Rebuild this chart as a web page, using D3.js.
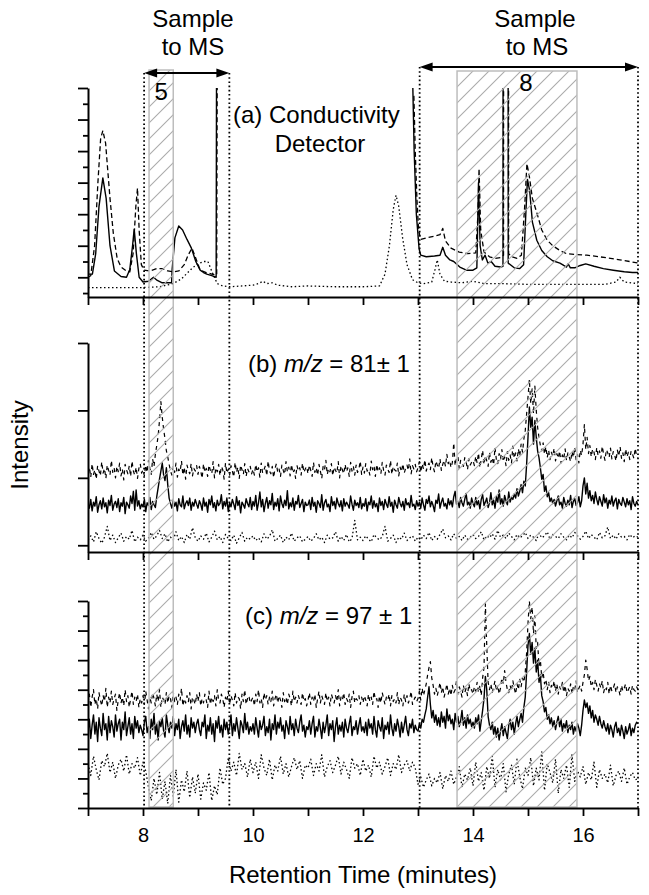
<!DOCTYPE html>
<html><head><meta charset="utf-8">
<script src="https://cdn.jsdelivr.net/npm/d3@7"></script>
<style>body{margin:0;background:#fff}svg{display:block}</style>
</head><body>
<svg id="c" width="649" height="895"></svg>
<script>
// ---------- DATA ----------
const xTicks = [7,8,9,10,11,12,13,14,15,16,17];
const xTickLabels = {8:"8",10:"10",12:"12",14:"14",16:"16"};
const sampleWindows = [[8.02, 9.57], [13.03, 17.0]];
const hatchBands = [[8.11, 8.55], [13.71, 15.89]];
const bandLabels = ["5", "8"];

// Panel (a) conductivity detector: [time, signal]; null breaks the trace
const aSolid = [
[7.00,1.2],[7.08,1.2],[7.14,2.5],[7.20,5.5],[7.27,7.3],[7.33,6.0],[7.40,3.0],[7.48,1.4],[7.60,1.05],[7.70,1.0],[7.76,1.5],[7.81,3.0],[7.84,4.05],[7.88,2.5],[7.93,1.0],[8.00,0.7],[8.10,0.75],[8.19,1.0],[8.26,0.8],[8.35,0.65],[8.45,0.65],[8.52,0.65],[8.53,1.5],[8.58,3.5],[8.65,4.25],[8.72,4.0],[8.80,3.4],[8.88,2.85],[8.96,2.0],[9.04,1.45],[9.10,1.3],[9.16,1.2],[9.25,1.1],[9.33,1.0],[9.345,30],[9.35,null],
[12.905,13.2],[12.93,9.0],[12.97,5.0],[13.02,2.8],[13.05,2.4],[13.15,2.3],[13.30,2.35],[13.40,2.4],[13.45,2.9],[13.50,2.4],[13.58,2.1],[13.65,2.0],[13.76,1.65],[13.88,1.45],[14.00,1.45],[14.07,1.6],[14.10,7.0],[14.13,3.0],[14.17,2.1],[14.22,2.4],[14.27,1.9],[14.33,2.0],[14.40,1.7],[14.50,1.65],[14.545,1.7],[14.548,30],[14.637,30],[14.64,1.9],[14.75,1.6],[14.85,1.55],[14.92,1.8],[14.96,5.0],[14.99,7.2],[15.03,6.5],[15.08,4.5],[15.16,3.35],[15.25,2.7],[15.35,2.3],[15.45,2.05],[15.58,1.9],[15.65,1.75],[15.70,1.65],[15.73,1.85],[15.77,1.6],[15.85,1.6],[15.95,1.75],[16.05,1.85],[16.20,1.7],[16.37,1.55],[16.55,1.45],[16.75,1.35],[16.90,1.3],[17.00,1.3]
];
const aDashed = [
[7.00,1.0],[7.05,1.1],[7.12,3.0],[7.18,7.0],[7.23,9.8],[7.27,10.3],[7.32,9.5],[7.40,6.0],[7.46,3.8],[7.53,2.2],[7.60,1.65],[7.70,1.4],[7.76,1.35],[7.82,2.5],[7.87,5.5],[7.90,6.65],[7.93,4.0],[7.97,1.8],[8.02,1.45],[8.12,1.4],[8.25,1.55],[8.35,1.55],[8.45,1.4],[8.55,1.35],[8.65,1.4],[8.75,1.8],[8.82,2.4],[8.89,2.85],[8.95,2.3],[9.04,1.45],[9.15,1.3],[9.25,1.2],[9.34,1.15],[9.36,30],[9.37,null],
[12.925,12.5],[12.95,9.0],[12.98,6.0],[13.01,4.0],[13.05,3.4],[13.15,3.5],[13.30,3.6],[13.40,3.7],[13.45,4.1],[13.50,3.3],[13.60,2.85],[13.75,2.6],[13.90,2.5],[14.05,2.55],[14.09,5.0],[14.11,7.9],[14.14,4.0],[14.20,2.6],[14.30,2.3],[14.40,2.2],[14.50,2.25],[14.555,2.4],[14.558,30],[14.645,30],[14.648,2.5],[14.70,2.3],[14.80,2.2],[14.88,2.4],[14.94,5.5],[14.98,8.2],[15.02,7.5],[15.08,6.0],[15.16,5.1],[15.25,4.0],[15.35,3.35],[15.45,3.0],[15.58,2.7],[15.70,2.5],[15.85,2.45],[16.07,2.4],[16.30,2.3],[16.50,2.2],[16.67,2.1],[16.85,2.0],[17.00,1.9]
];
const aDotted = [
[7.00,0.35],[7.50,0.35],[8.00,0.35],[8.30,0.4],[8.55,0.6],[8.70,0.9],[8.80,1.25],[8.90,1.6],[9.00,1.85],[9.10,2.0],[9.18,2.0],[9.26,1.3],[9.35,0.6],[9.45,0.45],[9.58,0.4],[9.80,0.45],[10.00,0.5],[10.10,0.6],[10.18,0.75],[10.25,0.6],[10.35,0.65],[10.45,0.5],[10.70,0.4],[11.00,0.45],[11.50,0.4],[12.00,0.4],[12.30,0.45],[12.40,1.2],[12.48,3.0],[12.55,5.3],[12.60,6.2],[12.65,5.5],[12.72,3.5],[12.80,1.8],[12.90,0.85],[13.00,0.65],[13.10,0.6],[13.25,0.7],[13.31,1.5],[13.35,2.1],[13.40,1.2],[13.48,0.75],[13.60,0.7],[13.80,0.65],[14.00,0.75],[14.20,0.6],[14.50,0.6],[15.00,0.55],[15.50,0.55],[16.00,0.55],[16.40,0.55],[16.60,0.7],[16.67,1.0],[16.75,0.7],[17.00,0.6]
];

// MS traces. Solid/dashed: readings every 0.025 min (401 each, 40 per minute row);
// dotted: readings every 0.05 min (201 each, 20 per minute row). 7.00 -> 17.00
// Panel (b) m/z 81, in hundredths of a major tick
const bSolid = [
62,55,68,51,64,58,72,49,60,66,54,70,57,63,48,67,59,74,52,61,65,56,69,50,63,58,71,47,64,60,55,73,62,80,52,82,58,66,54,61,
57,68,50,63,59,71,53,65,60,56,72,85,98,110,122,104,96,115,90,70,62,55,67,58,64,51,69,60,57,73,54,62,66,59,70,52,64,58,68,61,
55,66,61,52,70,58,64,49,68,60,73,56,63,51,67,59,62,75,54,65,58,70,50,63,57,68,61,53,72,59,66,48,64,60,55,69,62,57,71,53,
65,58,74,52,63,79,57,68,50,62,71,55,66,60,77,53,64,58,69,51,73,62,56,67,59,81,54,63,57,70,52,65,61,74,56,62,68,50,64,59,
60,67,53,71,58,64,49,66,62,56,75,52,63,68,57,61,50,72,59,65,54,70,62,57,66,51,69,58,64,60,55,73,61,52,67,59,63,56,71,54,
62,58,69,51,64,60,73,55,66,57,62,50,70,59,65,53,68,61,56,72,58,64,49,67,60,55,71,62,57,65,52,69,60,63,56,74,58,61,53,66,
58,64,55,70,60,52,68,62,73,57,65,59,50,67,62,76,55,64,70,58,62,54,69,60,66,57,72,80,61,65,56,71,63,58,68,77,60,64,55,70,
62,57,71,60,66,54,68,75,59,64,70,56,63,78,60,67,55,72,64,82,61,69,58,74,66,60,79,64,71,68,76,70,84,73,80,90,78,95,88,120,
160,205,175,190,150,185,160,140,130,115,98,105,80,88,72,78,65,70,62,68,58,66,73,60,64,55,71,62,58,67,60,74,56,65,69,59,63,72,57,66,
88,100,76,92,70,81,66,74,62,79,68,60,72,65,58,75,63,70,55,67,61,73,58,66,70,54,68,62,59,71,64,57,69,60,66,53,72,62,58,65,
60];
const bDashed = [
108,116,101,121,105,112,98,118,110,103,124,107,114,99,119,111,104,126,108,115,100,117,109,122,103,113,97,120,112,106,118,102,125,110,104,116,99,114,121,107,
112,103,119,108,126,114,105,128,117,135,148,162,185,213,190,172,158,140,131,120,110,104,117,108,122,101,113,109,125,104,116,98,119,111,106,121,103,114,110,118,
105,117,110,99,121,108,114,102,119,111,106,124,100,115,109,120,103,117,112,98,122,107,113,104,118,110,101,123,108,116,99,119,112,105,121,102,114,109,117,106,
113,104,120,109,115,101,122,107,112,118,103,125,110,106,117,100,114,121,108,113,102,119,111,105,124,109,116,103,120,107,112,99,118,110,115,104,122,108,113,117,
106,119,111,102,123,108,115,104,120,110,99,117,112,126,105,114,109,121,103,116,111,107,124,100,118,112,106,120,109,115,102,123,110,117,104,119,108,113,125,105,
116,107,121,110,113,104,125,112,118,102,120,109,115,106,123,111,104,119,113,108,126,105,117,112,110,122,103,116,109,121,107,114,119,111,128,106,118,113,120,109,
115,124,108,121,113,127,110,118,122,112,130,116,109,125,119,114,128,111,120,126,117,135,121,126,115,123,152,118,129,132,114,126,121,117,130,124,112,128,119,123,
126,118,132,122,137,115,128,141,120,133,125,117,138,123,130,119,145,127,121,136,128,142,124,131,118,139,126,134,122,147,129,137,125,143,132,150,138,158,170,195,
220,246,210,232,195,236,200,175,160,148,140,152,135,146,130,141,127,138,132,144,125,136,129,140,122,134,128,143,126,137,131,124,139,130,145,127,135,122,141,133,
150,179,142,160,136,148,131,143,138,127,145,133,140,129,147,135,126,142,137,130,144,128,139,134,125,141,132,146,129,137,124,143,131,138,127,140,135,129,144,132,
130];
const bDotted = [
8,14,5,20,10,3,12,28,7,15,4,11,18,6,13,9,22,5,12,8,
15,6,11,19,9,14,22,10,17,5,12,8,20,7,13,4,16,9,26,11,
6,14,9,18,5,12,21,8,13,4,16,10,7,15,3,11,19,6,12,9,
14,7,11,5,17,9,13,23,6,10,15,4,12,8,18,6,11,14,5,9,
13,6,10,17,8,12,4,15,9,11,20,6,13,7,16,5,10,37,8,12,
7,14,9,5,16,11,8,13,28,6,10,15,4,12,9,18,7,11,14,6,
12,8,15,10,19,7,13,9,16,24,11,14,8,17,10,13,7,15,9,12,
16,10,13,20,8,14,11,17,9,22,12,15,10,18,13,8,16,11,14,19,
10,15,12,7,18,11,14,20,9,16,13,10,17,12,8,15,11,19,14,9,
13,21,10,16,12,8,19,11,14,27,10,15,9,17,12,13,8,16,11,14,
12];
// Panel (c) m/z 97, in tenths of a minor tick
const cSolid = [
52,60,47,56,63,50,58,45,61,54,49,64,53,57,46,62,51,59,55,48,63,52,57,60,46,58,53,65,49,55,61,50,57,47,62,54,59,51,56,53,
49,58,62,51,55,47,60,53,64,50,57,46,59,55,61,52,48,63,56,51,58,54,62,49,57,53,60,47,55,59,52,63,50,56,48,61,54,58,51,57,
60,53,49,58,55,63,47,56,52,61,50,57,45,59,54,62,51,56,48,60,53,58,50,55,63,49,57,52,61,54,47,59,56,51,64,53,58,50,55,52,
57,50,61,54,48,59,53,56,62,49,55,51,60,46,57,53,63,50,58,54,61,52,56,47,59,55,50,62,53,57,49,60,54,51,58,63,52,56,48,55,
53,59,50,57,62,48,55,52,60,54,47,58,51,56,63,49,57,53,59,45,55,61,50,56,52,58,48,60,54,51,57,62,49,55,53,59,50,56,61,52,
55,51,58,49,60,54,57,50,62,53,48,59,55,52,61,47,56,53,58,50,63,54,49,57,52,60,55,48,58,51,56,62,53,49,57,54,60,51,56,53,
52,57,54,60,58,63,67,75,82,70,61,66,58,63,56,61,55,65,58,62,54,67,59,63,57,60,53,64,58,62,55,59,66,56,61,54,63,57,60,55,
58,54,61,57,63,52,59,66,74,89,80,62,56,53,58,50,55,48,54,46,52,57,49,55,51,47,56,60,53,58,50,57,62,55,60,64,58,68,75,92,
110,118,104,112,98,108,92,100,85,90,76,72,65,68,60,63,57,61,55,59,53,58,62,55,60,52,57,54,59,51,56,53,58,50,55,52,57,54,49,56,
66,73,68,71,64,69,61,66,58,63,60,56,62,57,54,59,55,52,57,50,56,53,48,55,58,51,54,49,56,52,47,55,50,53,57,49,54,51,56,58,
57];
const cDashed = [
71,77,68,75,80,70,74,67,78,73,69,76,72,81,68,75,71,79,70,74,77,66,73,78,71,75,69,80,72,76,68,74,79,70,75,72,77,68,74,71,
76,70,79,73,67,75,71,78,74,69,77,72,80,68,75,73,70,78,71,76,74,68,79,72,75,70,77,73,81,69,74,71,76,72,78,67,75,73,70,77,
72,78,69,74,71,77,73,68,79,70,75,72,76,69,80,73,71,77,74,68,75,72,79,70,76,73,69,78,71,75,74,67,77,72,80,70,74,76,71,73,
75,69,77,72,80,71,74,68,78,73,76,70,75,72,79,69,74,77,71,76,73,68,78,72,75,70,77,74,69,79,72,75,71,76,73,70,78,72,74,69,
73,78,70,75,72,77,68,74,79,71,76,73,70,78,72,75,69,77,74,71,76,72,80,69,75,73,78,70,74,72,77,68,75,79,71,74,73,76,70,75,
71,76,73,69,77,72,75,70,79,73,74,68,76,71,78,74,70,75,73,77,69,76,72,74,71,78,70,75,73,69,77,72,76,71,74,79,70,73,75,72,
74,79,73,81,76,80,84,90,95,99,88,83,77,81,76,80,85,78,82,75,79,84,77,81,76,83,78,80,86,77,82,79,75,83,78,81,76,84,79,80,
77,82,79,85,78,83,76,88,95,138,110,85,80,84,78,82,86,79,83,77,81,88,84,93,85,80,78,83,79,86,81,77,84,80,87,82,88,85,92,105,
125,140,128,136,118,130,108,112,96,100,88,92,84,87,80,85,78,83,81,86,79,84,77,82,80,85,78,83,76,81,79,84,77,82,80,86,78,81,83,79,
85,90,100,94,86,89,82,85,80,87,83,79,84,81,86,78,82,80,85,77,83,79,81,84,78,82,80,76,83,79,81,84,78,80,82,77,83,80,79,82,
80];
const cDotted = [
30,22,35,26,19,32,28,37,24,31,20,29,33,25,36,23,30,27,34,22,
31,25,14,5,20,9,24,6,18,3,22,8,26,4,19,11,25,7,21,10,
23,6,17,12,24,5,15,9,27,16,20,34,25,31,22,37,26,30,21,33,
24,31,20,36,27,22,33,19,29,25,35,23,30,21,28,34,26,32,20,29,
27,33,22,30,25,36,21,28,32,24,29,35,23,31,26,20,34,27,30,22,
33,25,29,21,35,27,31,23,28,34,22,30,26,36,24,29,32,25,31,27,
16,21,14,19,23,15,20,17,24,13,22,18,25,16,21,28,14,23,19,27,
15,31,18,24,12,28,20,35,14,26,19,30,11,23,29,16,33,21,13,27,
22,34,15,27,19,38,12,30,24,17,33,10,26,20,29,14,36,18,25,21,
28,16,24,19,31,14,26,20,23,17,29,15,22,25,18,27,16,21,24,19,
20];
const timesFine = d3.range(bSolid.length).map(i => 7 + i * 0.025);
const timesCoarse = d3.range(bDotted.length).map(i => 7 + i * 0.05);
const pairs = (t, v) => t.map((ti, i) => [ti, v[i]]);

// ---------- LAYOUT ----------
const FONT = "'Liberation Sans', Arial, Helvetica, sans-serif";
const svg = d3.select("#c");
const x = d3.scaleLinear().domain([7, 17]).range([88, 638]);

const panels = [
  {id:"a", top:88, bottom:297, domain:[-0.25, 13], ticks:d3.range(0, 14), major:v => v % 2 === 1,
   series:[{d:aDotted, s:"dotted"}, {d:aDashed, s:"dashed"}, {d:aSolid, s:"solid"}]},
  {id:"b", top:343, bottom:552, domain:[-10, 300], ticks:[0,100,200,300], major:() => true,
   series:[{d:pairs(timesCoarse,bDotted), s:"dotted"}, {d:pairs(timesFine,bSolid), s:"solid"}, {d:pairs(timesFine,bDashed), s:"dashedNoisy"}]},
  {id:"c", top:601, bottom:808, domain:[0, 140], ticks:d3.range(0, 141, 10), major:v => v % 20 === 0,
   series:[{d:pairs(timesCoarse,cDotted), s:"dotted"}, {d:pairs(timesFine,cSolid), s:"solid"}, {d:pairs(timesFine,cDashed), s:"dashedNoisy"}]}
];

const styles = {
  solid:  {w:1.4, dash:null},
  dashed: {w:1.3, dash:"5,3"},
  dashedNoisy: {w:1.2, dash:"4,4"},
  dotted: {w:1.3, dash:"1.5,2.5"}
};

const defs = svg.append("defs");
const pat = defs.append("pattern").attr("id","hatch").attr("patternUnits","userSpaceOnUse")
  .attr("width",16).attr("height",16);
pat.append("path").attr("d","M-4,4 L4,-4 M0,16 L16,0 M12,20 L20,12")
  .attr("stroke","#ababab").attr("stroke-width",1.1).attr("fill","none");

panels.forEach(p => {
  const y = d3.scaleLinear().domain(p.domain).range([p.bottom, p.top]);
  p.y = y;
  defs.append("clipPath").attr("id","clip-"+p.id).append("rect")
    .attr("x", 88).attr("y", p.top).attr("width", 550).attr("height", p.bottom - p.top);
  const g = svg.append("g").attr("clip-path", "url(#clip-"+p.id+")");
  const line = d3.line().defined(d => d[1] !== null && d[1] !== undefined).x(d => x(d[0])).y(d => y(d[1]));
  p.series.forEach(s => {
    const st = styles[s.s];
    g.append("path").attr("d", line(s.d)).attr("fill","none").attr("stroke","#000")
      .attr("stroke-width", st.w).attr("stroke-dasharray", st.dash).attr("stroke-linejoin","round");
  });
});

// hatched bands (on top of traces)
const bandTops = [70, 71];
hatchBands.forEach((b, i) => {
  svg.append("rect").attr("x", x(b[0])).attr("y", bandTops[i])
    .attr("width", x(b[1]) - x(b[0])).attr("height", 807 - bandTops[i])
    .attr("fill","url(#hatch)").attr("stroke","#bdbdbd").attr("stroke-width",1.5);
});

// sample-to-MS windows: dotted verticals + double arrows
const arrowY = [73, 67];
sampleWindows.forEach((w, i) => {
  const ay = arrowY[i];
  w.forEach(t => {
    svg.append("line").attr("x1", x(t)).attr("x2", x(t)).attr("y1", ay).attr("y2", 808)
      .attr("stroke","#000").attr("stroke-width",1.8).attr("stroke-dasharray","1.6,2.6");
  });
  const x1 = x(w[0]), x2 = x(w[1]);
  svg.append("line").attr("x1", x1 + 6).attr("x2", x2 - 6).attr("y1", ay).attr("y2", ay)
    .attr("stroke","#000").attr("stroke-width",2);
  svg.append("path").attr("d", `M${x1},${ay} L${x1+13},${ay-4.5} L${x1+13},${ay+4.5} Z`).attr("fill","#000");
  svg.append("path").attr("d", `M${x2},${ay} L${x2-13},${ay-4.5} L${x2-13},${ay+4.5} Z`).attr("fill","#000");
});

// axes
panels.forEach(p => {
  const majors = p.ticks.filter(p.major), minors = p.ticks.filter(v => !p.major(v));
  svg.append("g").attr("transform","translate(88,0)")
    .call(d3.axisLeft(p.y).tickValues(majors).tickSize(10).tickSizeOuter(0).tickFormat(""));
  if (minors.length) {
    svg.append("g").attr("transform","translate(88,0)")
      .call(d3.axisLeft(p.y).tickValues(minors).tickSize(5).tickSizeOuter(0).tickFormat(""))
      .select(".domain").remove();
  }
  svg.append("g").attr("transform",`translate(0,${p.bottom})`)
    .call(d3.axisBottom(x).tickValues(xTicks).tickSize(8).tickSizeOuter(0)
      .tickPadding(12).tickFormat(v => p.id === "c" ? (xTickLabels[v] || "") : ""));
});
svg.selectAll(".domain").attr("stroke","#000").attr("stroke-width",2);
svg.selectAll(".tick line").attr("stroke","#000").attr("stroke-width",1.8);
svg.selectAll(".tick text").attr("font-family",FONT).attr("font-size",20).attr("fill","#000");

// texts
function txt(xp, yp, s, anchor, size) {
  return svg.append("text").attr("x", xp).attr("y", yp).attr("text-anchor", anchor || "middle")
    .attr("font-family", FONT).attr("font-size", size || 24).attr("fill","#000").text(s);
}
txt(193, 27, "Sample"); txt(193, 55, "to MS");
txt(535, 27, "Sample"); txt(537, 55, "to MS");
txt(x((hatchBands[0][0]+hatchBands[0][1])/2), 100, bandLabels[0]);
txt(526, 91, bandLabels[1]);
txt(233, 123, "(a) Conductivity", "start");
txt(320, 152, "Detector");
const tb = svg.append("text").attr("x",248).attr("y",372).attr("font-family",FONT).attr("font-size",24);
tb.append("tspan").text("(b) ");
tb.append("tspan").attr("font-style","italic").text("m/z");
tb.append("tspan").text(" = 81\u00b1 1");
const tc = svg.append("text").attr("x",245).attr("y",624).attr("font-family",FONT).attr("font-size",24);
tc.append("tspan").text("(c) ");
tc.append("tspan").attr("font-style","italic").text("m/z");
tc.append("tspan").text(" = 97 \u00b1 1");
txt(363, 883, "Retention Time (minutes)");
svg.append("text").attr("transform","translate(28,445) rotate(-90)").attr("text-anchor","middle")
  .attr("font-family",FONT).attr("font-size",24).text("Intensity");
</script>
</body></html>
